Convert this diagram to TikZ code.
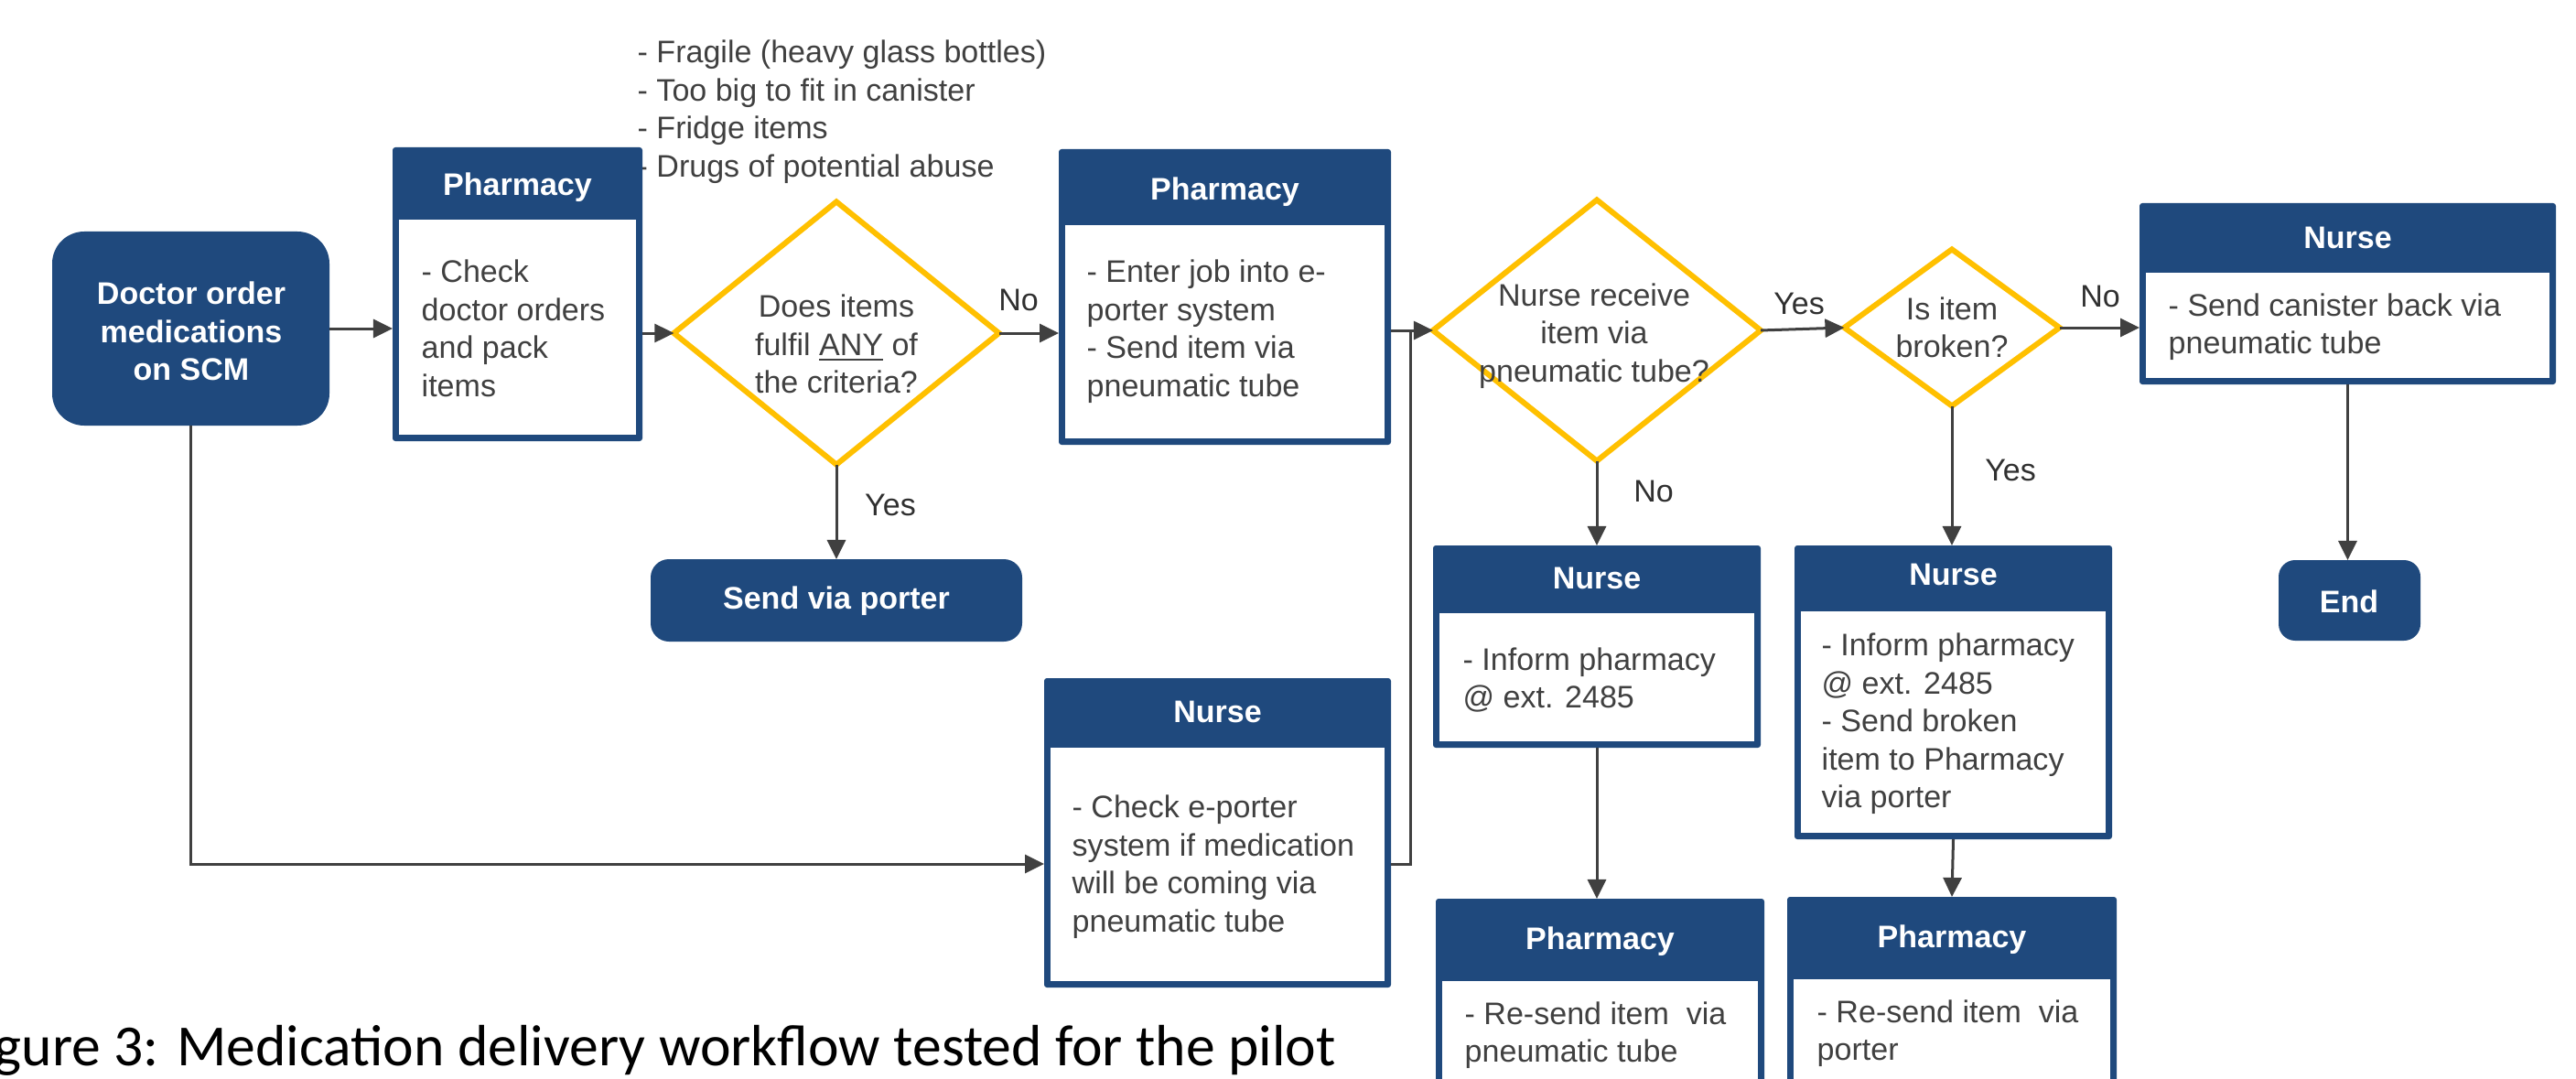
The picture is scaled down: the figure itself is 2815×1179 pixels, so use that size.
\documentclass[tikz,border=0pt]{standalone}
\usepackage{fontspec}
\setmainfont{Liberation Sans}
\newfontfamily\capfont{Carlito}
\usetikzlibrary{arrows.meta,shapes.geometric,fit,calc}
\definecolor{navy}{HTML}{1F497D}
\definecolor{gold}{HTML}{FFC000}
\definecolor{ink}{HTML}{404040}
\definecolor{labink}{HTML}{303030}
\definecolor{wirecol}{HTML}{404040}
\tikzset{
  txt/.style={font=\fontsize{9.68pt}{11.8pt}\selectfont, text=ink, inner sep=0pt},
  labtxt/.style={txt, text=labink},
  bodytxt/.style={txt, align=left, anchor=west},
  headtxt/.style={font=\fontsize{9.68pt}{11.8pt}\selectfont\bfseries, text=white, inner sep=0pt, align=center},
  boxshell/.style={fill=navy, rounded corners=0.03cm, inner sep=0pt, outer sep=0pt},
  boxbody/.style={fill=white, inner sep=0pt, outer sep=0pt},
  termbox/.style={fill=navy, inner sep=0pt, outer sep=0pt},
  decision/.style={diamond, draw=gold, line width=0.06cm, inner sep=0pt, outer sep=0pt},
  wire/.style={draw=wirecol, line width=0.03cm},
  arrow/.style={wire, -{Triangle[length=0.21cm,width=0.2cm]}},
}
% name, x1, y1, x2, y2, header bottom, title, title y
\newcommand\rolebox[8]{%
  \node[boxshell, fit={(#2,#3) (#4,#5)}] (#1) {};
  \node[boxbody, fit={({#2+7},#6) ({#4-7},{#5-7})}] (#1-body) {};
  \node[headtxt] (#1-title) at ({(#2+#4)/2},#8) {#7};
}
\begin{document}
\begin{tikzpicture}[x=0.01cm, y=-0.01cm]
\useasboundingbox (0,0) rectangle (2815,1179);
\fill[white] (0,0) rectangle (2815,1179);
\clip (0,0) rectangle (2815,1179);

% criteria list
\node[bodytxt] (criteria) at (696,122) {- Fragile (heavy glass bottles)\\- Too big to fit in canister\\- Fridge items\\- Drugs of potential abuse};

% start
\node[termbox, rounded corners=0.35cm, fit={(57,253) (360,465)}] (doc) {};
\node[headtxt] (doc-text) at (209,362) {Doctor order\\medications\\on SCM};

% role boxes
\rolebox{p1}{429}{161}{702}{482}{240}{Pharmacy}{205}
\node[bodytxt] (p1-text) at (460,359) {- Check\\doctor orders\\and pack\\items};

\rolebox{p2}{1157}{163}{1520}{486}{246}{Pharmacy}{210}
\node[bodytxt] (p2-text) at (1187,362) {- Enter job into e-\\porter system\\- Send item via\\pneumatic tube};

\rolebox{ntr}{2338}{222}{2793}{420}{298}{Nurse}{260}
\node[bodytxt] (ntr-text) at (2369,357) {- Send canister back via\\pneumatic tube};

\rolebox{ni}{1566}{596}{1924}{817}{670}{Nurse}{632}
\node[bodytxt] (ni-text) at (1598,743) {- Inform pharmacy\\@ ext. 2485};

\rolebox{nb}{1961}{596}{2308}{917}{668}{Nurse}{628}
\node[bodytxt] (nb-text) at (1990,791) {- Inform pharmacy\\@ ext. 2485\\- Send broken\\item to Pharmacy\\via porter};

\rolebox{nc}{1141}{741}{1520}{1079}{817}{Nurse}{778}
\node[bodytxt] (nc-text) at (1171,947) {- Check e-porter\\system if medication\\will be coming via\\pneumatic tube};

\rolebox{pt}{1569}{982}{1928}{1240}{1072}{Pharmacy}{1029}
\node[bodytxt] (pt-text) at (1600,1131) {- Re-send item\ \ via\\pneumatic tube};

\rolebox{pp}{1953}{980}{2313}{1240}{1070}{Pharmacy}{1027}
\node[bodytxt] (pp-text) at (1985,1129) {- Re-send item\ \ via\\porter};

% terminal boxes
\node[termbox, rounded corners=0.2cm, fit={(711,611) (1117,701)}] (svp) {};
\node[headtxt] (svp-text) at (914,657) {Send via porter};
\node[termbox, rounded corners=0.18cm, fit={(2490,612) (2645,700)}] (endbox) {};
\node[headtxt] (end-text) at (2567,657) {End};

% decisions
\node[decision, minimum width=3.55cm, minimum height=2.87cm] (d1) at (914,364) {};
\node[txt, align=center] (d1-text) at (914,376) {Does items\\fulfil \underline{ANY} of\\the criteria?};
\node[decision, minimum width=3.58cm, minimum height=2.85cm] (d2) at (1745,361) {};
\node[txt, align=center] (d2-text) at (1742,367) {Nurse receive\\item via\\pneumatic tube?};
\node[decision, minimum width=2.35cm, minimum height=1.71cm] (d3) at (2133,358) {};
\node[txt, align=center] (d3-text) at (2133,358) {Is item\\broken?};

% helper coordinates
\coordinate (lowrow) at (0,944);
\coordinate (jn) at (1541,362);

% connectors
\draw[arrow] (doc.east) -- (doc.east -| p1.west);
\draw[arrow] (d1.west -| p1.east) -- (d1.west);
\draw[arrow] (d1.east) -- (d1.east -| p2.west);
\draw[arrow] (p2.east |- d2.west) -- (d2.west);
\draw[arrow] (d2.east) -- (d3.west);
\draw[arrow] (d3.east) -- (d3.east -| ntr.west);
\draw[arrow] (ntr.south) -- (ntr.south |- endbox.north);
\draw[arrow] (d1.south) -- (d1.south |- svp.north);
\draw[arrow] (d2.south) -- (d2.south |- ni.north);
\draw[arrow] (d3.south) -- (d3.south |- nb.north);
\draw[arrow] (ni.south) -- (ni.south |- pt.north);
\draw[arrow] (nb.south) -- (pp.north);
\draw[arrow] (doc.south) |- (nc.west |- lowrow);
\draw[wire] (nc.east |- lowrow) -| (jn);

% labels
\node[labtxt] (lab-d1-no) at (1113,328) {No};
\node[labtxt] (lab-d1-yes) at (973,552) {Yes};
\node[labtxt] (lab-d2-yes) at (1966,332) {Yes};
\node[labtxt] (lab-d2-no) at (1807,537) {No};
\node[labtxt] (lab-d3-yes) at (2197,514) {Yes};
\node[labtxt] (lab-d3-no) at (2295,324) {No};

% caption
\node[anchor=base west, inner sep=0pt, font=\capfont\fontsize{18.1pt}{21pt}\selectfont] (caption) at (-7,1164) {gure 3: Medication delivery workflow tested for the pilot};
\end{tikzpicture}
\end{document}
